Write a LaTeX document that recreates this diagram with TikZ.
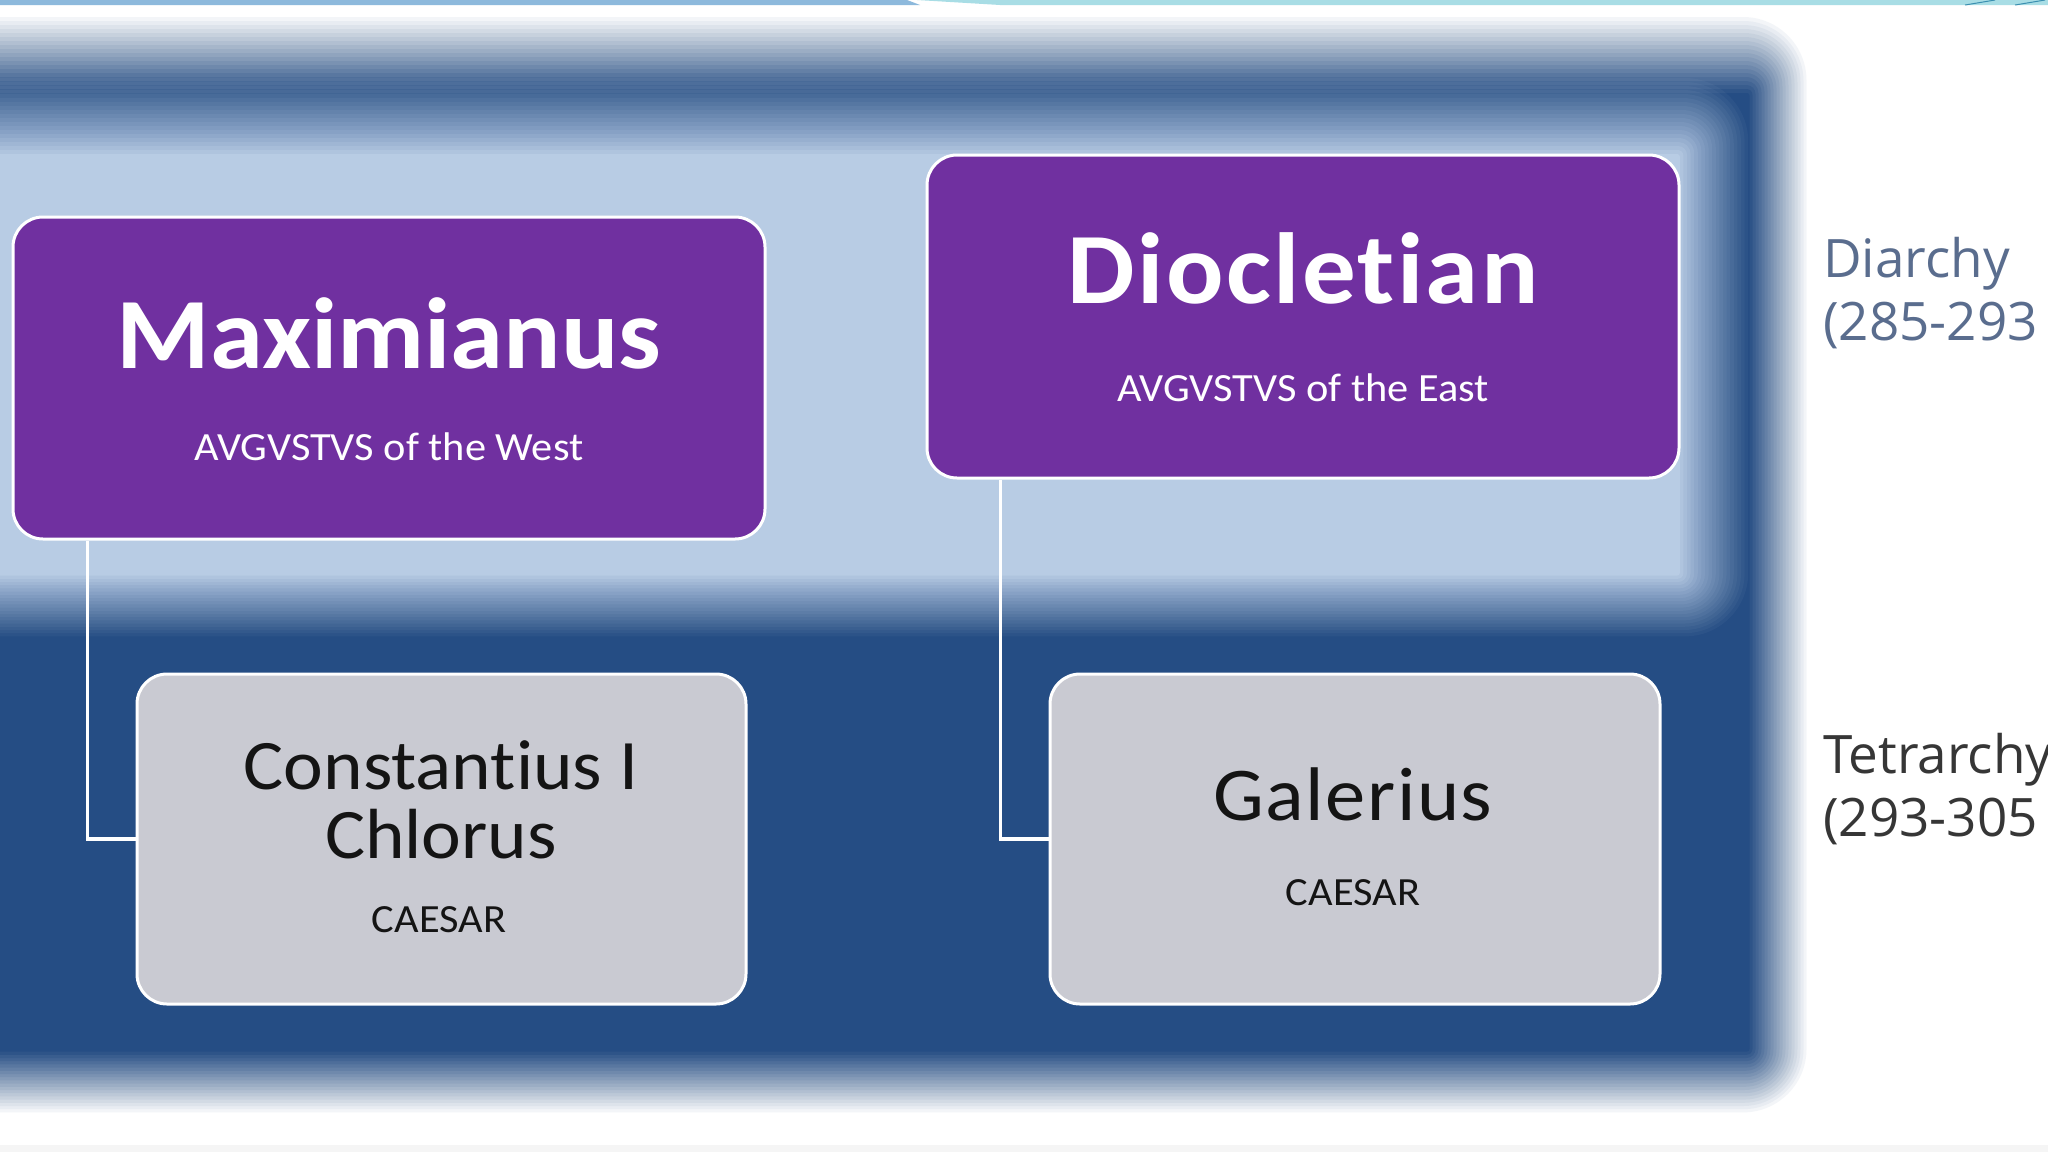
\documentclass[tikz,border=0pt]{standalone}
\usepackage{fontspec}
\setmainfont{Carlito}[FakeStretch=1.06, Ligatures=CommonOff]
\newfontfamily\sidefont{Open Sans}
\definecolor{panelblue}{HTML}{254D84}
\definecolor{lightblue}{HTML}{B8CCE4}
\definecolor{purplebox}{HTML}{7030A0}
\definecolor{graybox}{HTML}{C9CAD2}
\definecolor{diarchycol}{HTML}{5A6D8E}
\definecolor{tetracol}{HTML}{363636}
\definecolor{stripblue}{HTML}{8DB9DC}
\definecolor{stripcyan}{HTML}{A8DDE5}
\definecolor{stripline}{HTML}{3A8FB0}
% soft-edged rectangle: colour, x1, y1, x2, y2, blur of left, top, right, bottom edge
\newcommand{\softrect}[9]{%
  \foreach \k in {1,...,20}{%
    \pgfmathsetmacro{\fr}{(2*\k-21)/20}%
    \pgfmathsetmacro{\op}{1/(21-\k)}%
    \pgfmathsetmacro{\rc}{32*(1-\fr)+1}%
    \pgfmathsetmacro{\xa}{#2+#6*\fr}%
    \pgfmathsetmacro{\ya}{#3+#7*\fr}%
    \pgfmathsetmacro{\xb}{#4-#8*\fr}%
    \pgfmathsetmacro{\yb}{#5-#9*\fr}%
    \fill[#1, fill opacity=\op, rounded corners=\rc pt] (\xa,\ya) rectangle (\xb,\yb);
  }}
\tikzset{
  augbox/.style={draw=white, line width=3pt, fill=purplebox, rounded corners=30pt, inner sep=0pt},
  caebox/.style={draw=white, line width=3pt, fill=graybox, rounded corners=30pt, inner sep=0pt},
  link/.style={draw=white, line width=3.5pt},
  titletext/.style={anchor=base, text=white, inner sep=0pt, font=\fontsize{101}{101}\selectfont\bfseries},
  roletext/.style={anchor=base, text=white, inner sep=0pt, font=\fontsize{40}{40}\selectfont},
  cnametext/.style={anchor=base, text=black!92, inner sep=0pt, font=\fontsize{71}{71}\selectfont},
  croletext/.style={anchor=base, text=black!92, inner sep=0pt, font=\fontsize{40}{40}\selectfont},
  sidetext/.style={anchor=base west, inner sep=0pt, font=\sidefont\fontsize{53}{53}\selectfont}
}
\begin{document}
\begin{tikzpicture}[x=1pt,y=-1pt]
\useasboundingbox (0,0) rectangle (2048,1152);
\clip (0,0) rectangle (2048,1152);
\fill[white] (0,0) rectangle (2048,1152);
% top strip
\fill[stripblue] (0,0) -- (907,0) -- (920,5) -- (0,5) -- cycle;
\fill[stripcyan] (917,0) -- (2048,0) -- (2048,5) -- (1000,5) -- cycle;
\draw[stripline, line width=1pt] (1965,5) -- (1995,0);
\draw[stripline, line width=1pt] (2015,5) -- (2045,0);
% bottom faint strip
\fill[black!4] (0,1145) rectangle (2048,1152);
% background panels
\softrect{panelblue}{-100}{55}{1778}{1082}{10}{40}{30}{32}
\softrect{lightblue}{-100}{116}{1714}{606}{10}{40}{36}{32}
% boxes
\node[augbox, minimum width=752pt, minimum height=322pt] (max) at (389,378) {};
\node[augbox, minimum width=752pt, minimum height=323pt] (dio) at (1303,316.5) {};
\node[caebox, minimum width=609pt, minimum height=330pt] (con) at (441.5,839) {};
\node[caebox, minimum width=610pt, minimum height=330pt] (gal) at (1355,839) {};
% connectors
\draw[link] ([xshift=76pt]max.south west) |- (con.west);
\draw[link] ([xshift=75pt]dio.south west) |- (gal.west);
% texts
\node[titletext] (maxname) at (389,368) {Maximianus};
\node[roletext] (maxrole) at (389,460) {AVGVSTVS of the West};
\node[titletext] (dioname) at (1303,303) {\addfontfeature{LetterSpace=2.4}Diocletian};
\node[roletext] (diorole) at (1303,401) {AVGVSTVS of the East};
\node[cnametext] (conname) at (441,789) {Constantius I};
\node[cnametext] (conname2) at (441,858) {Chlorus};
\node[croletext] (conrole) at (439,932) {CAESAR};
\node[cnametext, font=\fontsize{76}{76}\selectfont\addfontfeature{LetterSpace=2}] (galname) at (1353,820) {Galerius};
\node[croletext] (galrole) at (1353,905) {CAESAR};
% side labels
\node[sidetext, text=diarchycol] (diarchy) at (1823,277) {Diarchy};
\node[sidetext, text=diarchycol] (diyears) at (1823,340) {(285-293};
\node[sidetext, text=tetracol] (tetrarchy) at (1823,773) {Tetrarchy};
\node[sidetext, text=tetracol] (tetyears) at (1823,836) {(293-305};
\end{tikzpicture}
\end{document}
